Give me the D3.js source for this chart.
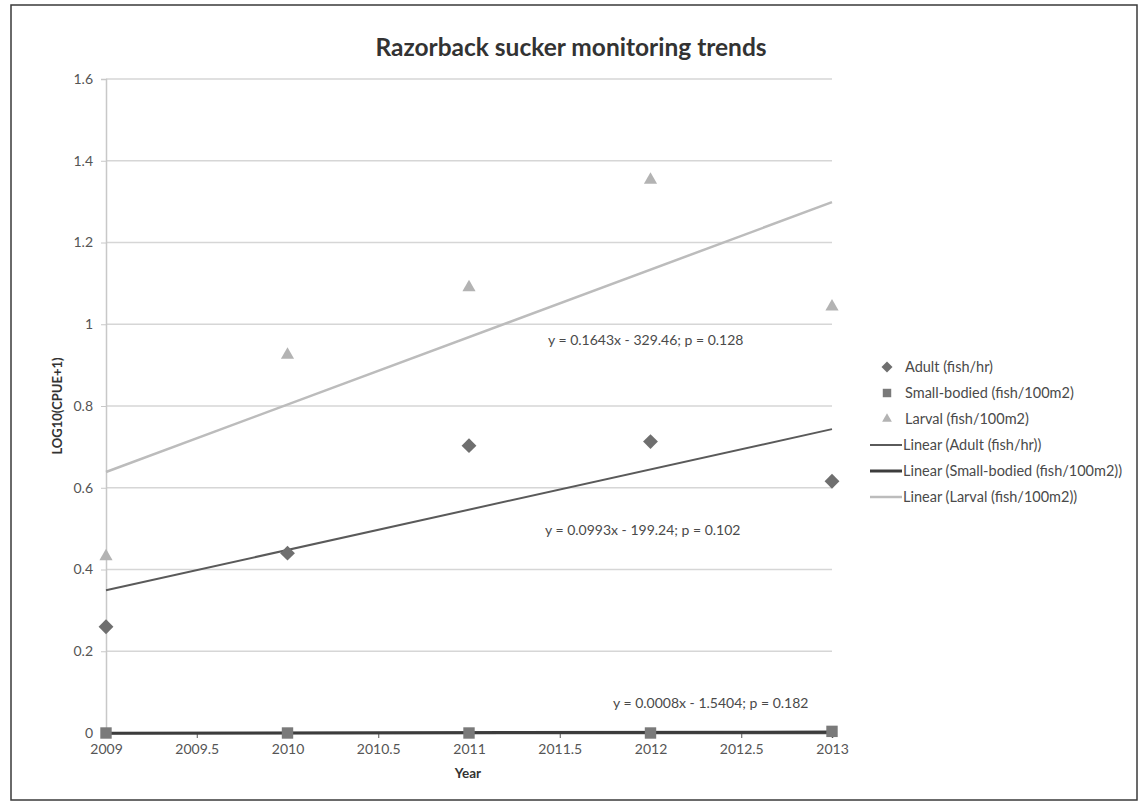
<!DOCTYPE html>
<html>
<head>
<meta charset="utf-8">
<script src="https://cdn.jsdelivr.net/npm/d3@7"></script>
<style>
  html, body { margin: 0; padding: 0; background: #ffffff; }
  svg text { font-family: Lato, "Open Sans", sans-serif; }
</style>
</head>
<body>
<svg id="chart" width="1145" height="807"></svg>
<script>
// Survey years and log-transformed catch-per-unit-effort values
const years = [2009, 2010, 2011, 2012, 2013];
const adult = [0.26, 0.44, 0.703, 0.713, 0.616];
const smallBodied = [0, 0, 0, 0, 0.004];
const larval = [0.432, 0.925, 1.09, 1.353, 1.043];

const seriesNames = ["Adult (fish/hr)", "Small-bodied (fish/100m2)", "Larval (fish/100m2)"];
const trendLabels = [
  "y = 0.0993x - 199.24; p = 0.102",
  "y = 0.0008x - 1.5404; p = 0.182",
  "y = 0.1643x - 329.46; p = 0.128"
];
const xTicks = [2009, 2009.5, 2010, 2010.5, 2011, 2011.5, 2012, 2012.5, 2013];
const yTicks = [0, 0.2, 0.4, 0.6, 0.8, 1, 1.2, 1.4, 1.6];

const svg = d3.select("#chart");
const plot = { left: 106, right: 832, top: 79, bottom: 733 };

// outer frame
svg.append("rect").attr("x", 11).attr("y", 5).attr("width", 1126).attr("height", 795)
  .attr("fill", "#fff").attr("stroke", "#3a3a3a").attr("stroke-width", 1.5);

const x = d3.scaleLinear().domain([2009, 2013]).range([plot.left, plot.right]);
const y = d3.scaleLinear().domain([0, 1.6]).range([plot.bottom, plot.top]);

// horizontal gridlines
svg.append("g").selectAll("line").data(yTicks.filter(v => v > 0)).join("line")
  .attr("x1", plot.left).attr("x2", plot.right)
  .attr("y1", d => y(d)).attr("y2", d => y(d))
  .attr("stroke", "#d6d6d6").attr("stroke-width", 1.5);

// y axis
const yAxis = d3.axisLeft(y).tickValues(yTicks).tickSize(5).tickPadding(8)
  .tickFormat(d => d === 0 ? "0" : String(+d.toFixed(1)));
const gy = svg.append("g").attr("transform", `translate(${plot.left},0)`).call(yAxis);
gy.select(".domain").attr("stroke", "#c8c8c8").attr("stroke-width", 1.5);
gy.selectAll(".tick line").attr("stroke", "#c8c8c8");
gy.selectAll(".tick text").attr("fill", "#555").attr("font-size", 14)
  .style("font-family", "Lato, sans-serif");

// x axis
const xAxis = d3.axisBottom(x).tickValues(xTicks).tickSize(5).tickPadding(6)
  .tickFormat(d => String(d));
const gx = svg.append("g").attr("transform", `translate(0,${plot.bottom})`).call(xAxis);
gx.select(".domain").attr("stroke", "#555").attr("stroke-width", 1.5);
gx.selectAll(".tick line").attr("stroke", "#555");
gx.selectAll(".tick text").attr("fill", "#555").attr("font-size", 14)
  .style("font-family", "Lato, sans-serif");

// least-squares trend line for each series
function fit(vals) {
  const mx = d3.mean(years), my = d3.mean(vals);
  let sxy = 0, sxx = 0;
  years.forEach((yr, i) => { sxy += (yr - mx) * (vals[i] - my); sxx += (yr - mx) ** 2; });
  const slope = sxy / sxx;
  return { slope, intercept: my - slope * mx };
}

// diamond drawn as a square turned 45 degrees
const squareDiamond = {
  draw(ctx, size) {
    const r = Math.sqrt(size / 2);
    ctx.moveTo(0, -r); ctx.lineTo(r, 0); ctx.lineTo(0, r); ctx.lineTo(-r, 0); ctx.closePath();
  }
};

const series = [
  { name: seriesNames[0], values: adult, marker: squareDiamond, size: 110, fill: "#6f6f6f",
    line: "#5a5a5a", lw: 2 },
  { name: seriesNames[1], values: smallBodied, marker: d3.symbolSquare, size: 130, fill: "#7a7a7a",
    line: "#3c3c3c", lw: 3 },
  { name: seriesNames[2], values: larval, marker: d3.symbolTriangle, size: 75, fill: "#b3b3b3",
    line: "#bcbcbc", lw: 2.5 }
];

const lineGen = d3.line().x(d => x(d[0])).y(d => y(d[1]));
series.forEach(s => {
  const f = fit(s.values);
  const ends = [2009, 2013].map(t => [t, f.slope * t + f.intercept]);
  svg.append("path").datum(ends).attr("d", lineGen)
    .attr("fill", "none").attr("stroke", s.line).attr("stroke-width", s.lw);
});

// data markers
series.forEach(s => {
  svg.append("g").selectAll("path").data(s.values).join("path")
    .attr("d", d3.symbol().type(s.marker).size(s.size))
    .attr("transform", (d, i) => `translate(${x(years[i])},${y(d)})`)
    .attr("fill", s.fill);
});

// regression equations
const eqPos = [[545, 530], [613, 703], [548, 340]];
trendLabels.forEach((t, i) => {
  svg.append("text").attr("x", eqPos[i][0]).attr("y", eqPos[i][1] + 5)
    .attr("font-size", 14).attr("fill", "#4a4a4a").text(t);
});

// title and axis titles
svg.append("text").attr("x", 571).attr("y", 56).attr("text-anchor", "middle")
  .attr("font-size", 24.5).attr("font-weight", "bold").attr("fill", "#333")
  .text("Razorback sucker monitoring trends");
svg.append("text").attr("transform", "translate(62,406) rotate(-90)").attr("text-anchor", "middle")
  .attr("font-size", 13).attr("font-weight", "bold").attr("fill", "#333").text("LOG10(CPUE+1)");
svg.append("text").attr("x", 468).attr("y", 778).attr("text-anchor", "middle")
  .attr("font-size", 13.5).attr("font-weight", "bold").attr("fill", "#333").text("Year");

// legend
const lg = svg.append("g");
const rowY = [367, 393, 419, 445, 471, 497];
series.forEach((s, i) => {
  lg.append("path").attr("d", d3.symbol().type(s.marker).size(s.size * 0.55))
    .attr("transform", `translate(887,${rowY[i]})`).attr("fill", s.fill);
  lg.append("text").attr("x", 905).attr("y", rowY[i] + 5).attr("font-size", 14.5)
    .attr("fill", "#4a4a4a").text(s.name);
});
series.forEach((s, i) => {
  const ry = rowY[i + 3];
  lg.append("line").attr("x1", 870).attr("x2", 902).attr("y1", ry).attr("y2", ry)
    .attr("stroke", s.line).attr("stroke-width", s.lw);
  lg.append("text").attr("x", 903).attr("y", ry + 5).attr("font-size", 14.5)
    .attr("fill", "#4a4a4a").text("Linear (" + s.name + ")");
});
</script>
</body>
</html>
